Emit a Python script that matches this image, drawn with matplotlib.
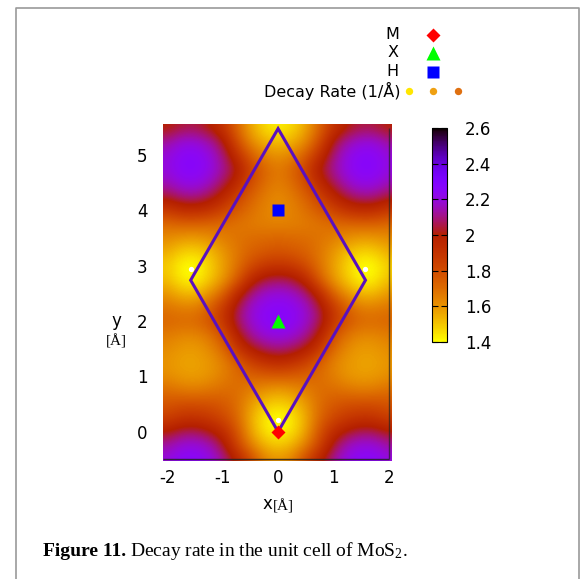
import numpy as np
import matplotlib
matplotlib.use("Agg")
import matplotlib.pyplot as plt

W, H, DPI = 584, 579, 100
plt.rcParams["mathtext.fontset"] = "custom"
plt.rcParams["mathtext.rm"] = "Liberation Serif"
plt.rcParams["mathtext.it"] = "Liberation Serif:italic"
plt.rcParams["mathtext.bf"] = "Liberation Serif:bold"

# ---------------- data ----------------
x_grid = [-2.0, -1.75, -1.5, -1.25, -1.0, -0.75, -0.5, -0.25, 0.0,
          0.25, 0.5, 0.75, 1.0, 1.25, 1.5, 1.75, 2.0]
y_grid = [-0.5, -0.25, 0.0, 0.25, 0.5, 0.75, 1.0, 1.25, 1.5, 1.75, 2.0,
          2.25, 2.5, 2.75, 3.0, 3.25, 3.5, 3.75, 4.0, 4.25, 4.5, 4.75,
          5.0, 5.25, 5.5]
# decay rate (1/Å), one row per y_grid value (bottom to top)
decay_rate = [
    [2.2, 2.26, 2.26, 2.22, 2.13, 1.99, 1.82, 1.65, 1.6, 1.65, 1.82, 1.99, 2.13, 2.22, 2.26, 2.26, 2.2],
    [2.14, 2.2, 2.21, 2.17, 2.05, 1.84, 1.66, 1.54, 1.5, 1.54, 1.66, 1.84, 2.05, 2.17, 2.21, 2.2, 2.14],
    [2.01, 2.07, 2.08, 2.03, 1.94, 1.78, 1.57, 1.45, 1.41, 1.45, 1.57, 1.78, 1.94, 2.03, 2.08, 2.07, 2.01],
    [1.85, 1.9, 1.91, 1.88, 1.82, 1.72, 1.55, 1.43, 1.38, 1.43, 1.55, 1.72, 1.82, 1.88, 1.91, 1.9, 1.85],
    [1.77, 1.8, 1.8, 1.79, 1.76, 1.7, 1.58, 1.5, 1.47, 1.5, 1.58, 1.7, 1.76, 1.79, 1.8, 1.8, 1.77],
    [1.7, 1.67, 1.66, 1.68, 1.7, 1.7, 1.65, 1.6, 1.57, 1.6, 1.65, 1.7, 1.7, 1.68, 1.66, 1.67, 1.7],
    [1.62, 1.59, 1.58, 1.6, 1.65, 1.7, 1.72, 1.73, 1.74, 1.73, 1.72, 1.7, 1.65, 1.6, 1.58, 1.59, 1.62],
    [1.6, 1.57, 1.57, 1.59, 1.64, 1.73, 1.83, 1.9, 1.93, 1.9, 1.83, 1.73, 1.64, 1.59, 1.57, 1.57, 1.6],
    [1.62, 1.59, 1.58, 1.62, 1.7, 1.87, 2.0, 2.07, 2.1, 2.07, 2.0, 1.87, 1.7, 1.62, 1.58, 1.59, 1.62],
    [1.66, 1.63, 1.63, 1.67, 1.78, 1.98, 2.12, 2.19, 2.21, 2.19, 2.12, 1.98, 1.78, 1.67, 1.63, 1.63, 1.66],
    [1.72, 1.71, 1.71, 1.77, 1.88, 2.07, 2.18, 2.25, 2.27, 2.25, 2.18, 2.07, 1.88, 1.77, 1.71, 1.71, 1.72],
    [1.68, 1.65, 1.65, 1.73, 1.87, 2.05, 2.18, 2.24, 2.26, 2.24, 2.18, 2.05, 1.87, 1.73, 1.65, 1.65, 1.68],
    [1.6, 1.53, 1.52, 1.6, 1.72, 1.94, 2.1, 2.18, 2.2, 2.18, 2.1, 1.94, 1.72, 1.6, 1.52, 1.53, 1.6],
    [1.52, 1.43, 1.41, 1.49, 1.59, 1.74, 1.95, 2.05, 2.08, 2.05, 1.95, 1.74, 1.59, 1.49, 1.41, 1.43, 1.52],
    [1.49, 1.41, 1.39, 1.47, 1.57, 1.68, 1.8, 1.88, 1.9, 1.88, 1.8, 1.68, 1.57, 1.47, 1.39, 1.41, 1.49],
    [1.55, 1.48, 1.47, 1.51, 1.59, 1.67, 1.73, 1.76, 1.78, 1.76, 1.73, 1.67, 1.59, 1.51, 1.47, 1.48, 1.55],
    [1.62, 1.59, 1.58, 1.61, 1.65, 1.68, 1.7, 1.71, 1.72, 1.71, 1.7, 1.68, 1.65, 1.61, 1.58, 1.59, 1.62],
    [1.7, 1.72, 1.72, 1.71, 1.7, 1.68, 1.66, 1.65, 1.64, 1.65, 1.66, 1.68, 1.7, 1.71, 1.72, 1.72, 1.7],
    [1.86, 1.92, 1.93, 1.9, 1.83, 1.75, 1.69, 1.64, 1.62, 1.64, 1.69, 1.75, 1.83, 1.9, 1.93, 1.92, 1.86],
    [2.04, 2.1, 2.11, 2.06, 1.96, 1.84, 1.73, 1.66, 1.62, 1.66, 1.73, 1.84, 1.96, 2.06, 2.11, 2.1, 2.04],
    [2.15, 2.21, 2.22, 2.17, 2.07, 1.95, 1.8, 1.7, 1.65, 1.7, 1.8, 1.95, 2.07, 2.17, 2.22, 2.21, 2.15],
    [2.2, 2.26, 2.27, 2.22, 2.13, 2.02, 1.84, 1.72, 1.66, 1.72, 1.84, 2.02, 2.13, 2.22, 2.27, 2.26, 2.2],
    [2.19, 2.25, 2.26, 2.21, 2.1, 1.92, 1.74, 1.64, 1.6, 1.64, 1.74, 1.92, 2.1, 2.21, 2.26, 2.25, 2.19],
    [2.12, 2.19, 2.19, 2.14, 2.03, 1.8, 1.62, 1.54, 1.5, 1.54, 1.62, 1.8, 2.03, 2.14, 2.19, 2.19, 2.12],
    [1.99, 2.04, 2.05, 2.0, 1.9, 1.72, 1.56, 1.46, 1.42, 1.46, 1.56, 1.72, 1.9, 2.0, 2.05, 2.04, 1.99],
]

# unit cell outline
cell_x = [0.0, 1.58, 0.0, -1.58, 0.0]
cell_y = [0.0, 2.74, 5.48, 2.74, 0.0]

# high-symmetry points
point_names = ["M", "X", "H"]
point_x = [0.0, 0.0, 0.0]
point_y = [0.0, 2.0, 4.0]
point_markers = ["D", "^", "s"]
point_colors = ["#ff0000", "#00ff00", "#0000ff"]
point_sizes = [7.0, 10.0, 9.2]

# minima (white dots)
min_x = [0.0, -1.58, 1.58]
min_y = [0.21, 2.95, 2.95]

x_ticks = [-2, -1, 0, 1, 2]
y_ticks = [0, 1, 2, 3, 4, 5]
cbar_ticks = [1.4, 1.6, 1.8, 2.0, 2.2, 2.4, 2.6]
cbar_labels = ["1.4", "1.6", "1.8", "2", "2.2", "2.4", "2.6"]
legend_rate_colors = ["#ffe600", "#efa012", "#df7010"]

# ---------------- figure ----------------
fig = plt.figure(figsize=(W / DPI, H / DPI), dpi=DPI)
fig.patch.set_facecolor("white")

def fx(px):
    return px / W

def fy(py):
    return 1 - py / H

ax_l, ax_r, ax_t, ax_b = 163.0, 391.5, 124.2, 460.5
ax = fig.add_axes([fx(ax_l), fy(ax_b), (ax_r - ax_l) / W, (ax_b - ax_t) / H])

Z = np.array(decay_rate)
dx = x_grid[1] - x_grid[0]
dy = y_grid[1] - y_grid[0]
im = ax.imshow(Z, origin="lower", cmap="gnuplot_r", vmin=1.4, vmax=2.6,
               interpolation="bicubic", aspect="auto",
               extent=[x_grid[0] - dx / 2, x_grid[-1] + dx / 2,
                       y_grid[0] - dy / 2, y_grid[-1] + dy / 2])
ax.set_xlim(-2.08, 2.05)
ax.set_ylim(-0.52, 5.56)

ax.plot(cell_x, cell_y, color="#5a10be", lw=2.2, solid_joinstyle="miter", zorder=3)
ax.plot(min_x, min_y, "o", color="white", ms=3.8, mec="none", zorder=4)
for n, x, y, m, c, s in zip(point_names, point_x, point_y, point_markers,
                             point_colors, point_sizes):
    ax.plot([x], [y], marker=m, color=c, ms=s, mec="none", ls="none", zorder=5)

# border lines (bottom and right)
ax.plot([-2.08, 2.0], [-0.5, -0.5], color="#222222", lw=1.0, alpha=0.85,
        zorder=2.5, solid_capstyle="butt")
ax.plot([2.0, 2.0], [-0.5, 5.5], color="#222222", lw=1.0, alpha=0.7,
        zorder=2.5, solid_capstyle="butt")

for s in ax.spines.values():
    s.set_visible(False)
ax.set_xticks(x_ticks)
ax.set_yticks(y_ticks)
ax.set_xticklabels([str(v) for v in x_ticks])
ax.set_yticklabels([str(v) for v in y_ticks])
ax.tick_params(axis="both", length=0, labelsize=12, colors="black")
ax.tick_params(axis="x", pad=6)
ax.tick_params(axis="y", pad=11)
for lab in ax.get_xticklabels() + ax.get_yticklabels():
    lab.set_fontfamily("DejaVu Sans")

# colorbar
cax = fig.add_axes([fx(432), fy(342), 15 / W, 214 / H])
cb = fig.colorbar(im, cax=cax, ticks=cbar_ticks)
cb.ax.set_yticklabels(cbar_labels)
cb.outline.set_linewidth(0.8)
cb.ax.tick_params(direction="in", length=4, width=0.8, left=True, right=True,
                  labelsize=12, pad=13)

# overlay for text and key
ov = fig.add_axes([0, 0, 1, 1], zorder=10)
ov.set_xlim(0, W)
ov.set_ylim(H, 0)
ov.axis("off")
ov.patch.set_alpha(0)

# frame
ov.plot([15.5, 15.5, 578.5, 578.5], [H + 2, 7.5, 7.5, H + 2], color="#9a9a9a", lw=1.2,
        clip_on=False)

# key
key_rows_y = [34.5, 52.5, 71.5]
for n, m, c, s, ky in zip(point_names, point_markers, point_colors, point_sizes, key_rows_y):
    ov.text(399, ky, n, ha="right", va="center", fontsize=11.5, family="DejaVu Sans")
    ov.plot([433], [ky], marker=m, color=c, ms=s, mec="none", ls="none")
ov.text(401, 90.5, "Decay Rate (1/Å)", ha="right", va="center", fontsize=11.5,
        family="DejaVu Sans")
for kx, c in zip([409, 433, 457.5], legend_rate_colors):
    ov.plot([kx], [90.5], "o", color=c, ms=5.3, mec="none")

# axis labels
ov.text(116, 321, "y", ha="center", va="center", fontsize=12, family="DejaVu Sans")
ov.text(116, 341, "[Å]", ha="center", va="center", fontsize=11, family="Liberation Serif")
ov.text(272, 504, "x", ha="right", va="center", fontsize=12, family="DejaVu Sans")
ov.text(273, 506, "[Å]", ha="left", va="center", fontsize=11, family="Liberation Serif")

# caption
t1 = ov.text(43, 551, "Figure 11.", ha="left", va="center", fontsize=14,
             family="Liberation Serif", fontweight="bold")
fig.canvas.draw()
bb = t1.get_window_extent()
x_next = bb.x1 * W / fig.bbox.width + 4
ov.text(x_next, 551, "Decay rate in the unit cell of MoS$_2$.", ha="left", va="center",
        fontsize=14, family="Liberation Serif")

fig.savefig("out.png", dpi=DPI)
